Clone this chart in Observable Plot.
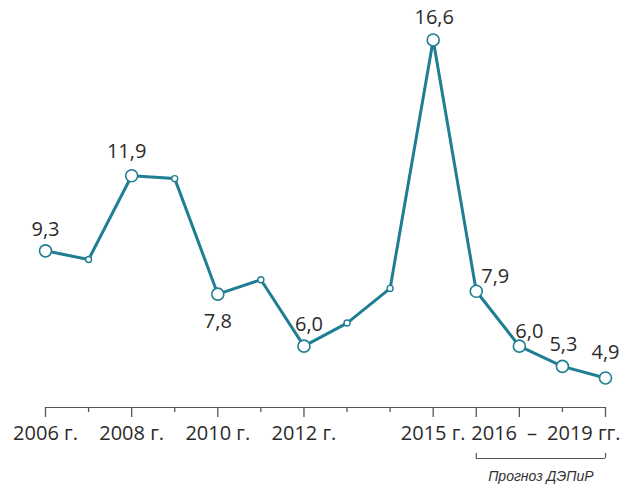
<!DOCTYPE html>
<html>
<head>
<meta charset="utf-8">
<script src="https://cdn.jsdelivr.net/npm/d3@7"></script>
<script src="https://cdn.jsdelivr.net/npm/@observablehq/plot@0.6"></script>
<style>
  body { margin: 0; background: #fff; }
  svg { display: block; }
</style>
</head>
<body>
<div id="chart"></div>
<script>
// ---- data ----
const years = [2006, 2007, 2008, 2009, 2010, 2011, 2012, 2013, 2014, 2015, 2016, 2017, 2018, 2019];
const values = [9.3, 9.0, 11.9, 11.8, 7.8, 8.3, 6.0, 6.8, 8.0, 16.6, 7.9, 6.0, 5.3, 4.9];
const labeledYears = [2006, 2008, 2010, 2012, 2015, 2016, 2017, 2018, 2019];
const majorTickYears = [2006, 2008, 2010, 2012, 2015, 2016, 2017, 2019];
const minorTickYears = [2007, 2009, 2011, 2013, 2014, 2018];
const tickLabelYears = [2006, 2008, 2010, 2012, 2015];
const tickLabels = ["2006 г.", "2008 г.", "2010 г.", "2012 г.", "2015 г."];
const rangeLabelYear = 2016;
const rangeLabel = "2016\u2002–\u20022019 гг.";
const forecastYears = [2016, 2019];
const forecastLabel = "Прогноз ДЭПиР";

// ---- layout (not data) ----
const labelOffsets = {
  2006: [0, -21], 2008: [-5, -24], 2010: [0, 27], 2012: [5, -22],
  2015: [1, -22], 2016: [19, -15], 2017: [10, -15], 2018: [1, -22], 2019: [0, -25]
};
const teal = "#1f7e92";
const ink = "#2b2b2b";
const font = "'Open Sans', 'Liberation Sans', sans-serif";

const rows = years.map((y, i) => ({year: y, value: values[i], labeled: labeledYears.includes(y)}));
const big = rows.filter(d => d.labeled);
const small = rows.filter(d => !d.labeled);
const fmt = v => v.toFixed(1).replace(".", ",");

const valueLabels = big.map(d => Plot.text([d], {
  x: "year", y: "value", text: d => fmt(d.value),
  dx: labelOffsets[d.year][0], dy: labelOffsets[d.year][1],
  fontSize: 20, fill: ink, fontFamily: font
}));

const W = 635, H = 494;
const plot = Plot.plot({
  width: W, height: H,
  marginLeft: 45, marginRight: 30, marginTop: 0, marginBottom: 87,
  style: {fontFamily: font, background: "#fff"},
  x: {domain: [2006, 2019], axis: null},
  y: {domain: [0, 18], range: [519, -1], axis: null},
  marks: [
    Plot.frame({anchor: "bottom", stroke: "#555", strokeWidth: 1.2}),
    Plot.axisX({ticks: majorTickYears, tickSize: 10, tickFormat: () => "", label: null, stroke: "#555", strokeWidth: 1.3}),
    Plot.axisX({ticks: minorTickYears, tickSize: 5, tickFormat: () => "", label: null, stroke: "#555", strokeWidth: 1.3}),
    Plot.text(tickLabels, {x: (d, i) => tickLabelYears[i], text: d => d, frameAnchor: "bottom", dy: 32, fontSize: 20, fill: ink}),
    Plot.text([rangeLabel], {x: () => rangeLabelYear, text: d => d, frameAnchor: "bottom", dy: 32, dx: -5, textAnchor: "start", fontSize: 20, fill: ink}),
    // forecast bracket
    Plot.ruleY([0], {y: null, x1: () => forecastYears[0], x2: () => forecastYears[1], dy: 458 - (0 + H - 87) / 2, stroke: "#555", strokeWidth: 1.2}),
    Plot.axisX({ticks: forecastYears, tickSize: -5, dy: 51, tickFormat: () => "", label: null, stroke: "#555", strokeWidth: 1.2}),
    Plot.text([forecastLabel], {x: () => (forecastYears[0] + forecastYears[1]) / 2, text: d => d, frameAnchor: "bottom", dy: 73, fontSize: 14, fontStyle: "italic", fill: "#333", fontFamily: "'Liberation Sans Narrow', 'Liberation Sans', sans-serif"}),
    // series
    Plot.line(rows, {x: "year", y: "value", stroke: teal, strokeWidth: 3, strokeLinejoin: "round"}),
    Plot.dot(small, {x: "year", y: "value", r: 3, fill: "#fff", stroke: teal, strokeWidth: 1.4}),
    Plot.dot(big, {x: "year", y: "value", r: 6, fill: "#fff", stroke: teal, strokeWidth: 1.6}),
    ...valueLabels
  ]
});
document.getElementById("chart").appendChild(plot);
</script>
</body>
</html>
